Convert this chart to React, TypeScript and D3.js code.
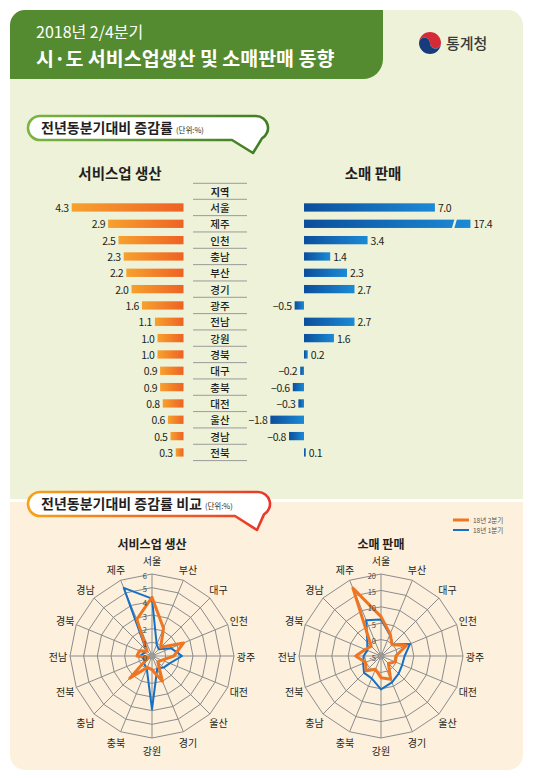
import React from 'react';
import * as d3 from 'd3';

const regions = ['서울', '제주', '인천', '충남', '부산', '경기', '광주', '전남', '강원', '경북', '대구', '충북', '대전', '울산', '경남', '전북'];
const serviceQ2 = [4.3, 2.9, 2.5, 2.3, 2.2, 2.0, 1.6, 1.1, 1.0, 1.0, 0.9, 0.9, 0.8, 0.6, 0.5, 0.3];
const retailQ2 = [7.0, 17.4, 3.4, 1.4, 2.3, 2.7, -0.5, 2.7, 1.6, 0.2, -0.2, -0.6, -0.3, -1.8, -0.8, 0.1];

const radarAxes = ['서울', '부산', '대구', '인천', '광주', '대전', '울산', '경기', '강원', '충북', '충남', '전북', '전남', '경북', '경남', '제주'];
const serviceQ1 = [4.2, 0.9, 0.7, 1.5, 2.2, 1.4, 1.2, 1.0, 3.9, 1.0, 0.8, 0.6, 0.9, 0.6, 0.6, 5.4];
const retailQ1 = [6.1, 2.0, 0.0, 4.6, 2.2, 2.0, 2.6, 3.7, 5.2, 2.4, 2.3, 0.9, 0.3, -0.5, 0.9, 6.8];

const serviceTicks = [0, 1, 2, 3, 4, 5, 6];
const retailTicks = [-5, 0, 5, 10, 15, 20];
const legendLabels = ['18년 2분기', '18년 1분기'];

const FONT = "'Noto Sans CJK KR', 'Noto Sans', sans-serif";
const ORANGE = '#ee7623';
const BLUE = '#1570c6';
const TEXT = '#231f20';
const GRID = '#8c8c8c';
const fmt = d3.format('.1f');

// display cap for the broken bar
const RETAIL_CAP = 8.9;
const RETAIL_BREAK = 8.0;

function Radar({ cx, cy, title, domain, ticks, q2, q1 }: any) {
  const R = 82;
  const r = d3.scaleLinear().domain(domain).range([0, R]);
  const ang = d3.scaleLinear().domain([0, radarAxes.length]).range([0, 2 * Math.PI]);
  const line = d3
    .lineRadial<number>()
    .angle((_, i) => ang(i))
    .radius((v) => r(v))
    .curve(d3.curveLinearClosed);
  const rings = ticks.filter((t: number) => t > domain[0]);
  const LR = 94;
  return (
    <g transform={`translate(${cx},${cy})`}>
      {rings.map((t: number) => (
        <path key={t} d={line(radarAxes.map(() => t)) || ''} fill="none" stroke={GRID} strokeWidth={1} />
      ))}
      {radarAxes.map((a, i) => (
        <line key={a} x1={0} y1={0} x2={R * Math.sin(ang(i))} y2={-R * Math.cos(ang(i))} stroke={GRID} strokeWidth={1} />
      ))}
      <circle r={3.5} fill="#9a9a9a" />
      <path d={line(q1) || ''} fill="none" stroke={BLUE} strokeWidth={2} strokeLinejoin="round" />
      <path d={line(q2) || ''} fill="none" stroke={ORANGE} strokeWidth={3} strokeLinejoin="round" />
      {ticks.map((t: number) => (
        <text key={t} x={-5} y={-r(t) + 1} textAnchor="end" dominantBaseline="central" fontSize={7.5} fill="#444" fontFamily={FONT}>
          {t}
        </text>
      ))}
      {radarAxes.map((a, i) => (
        <text
          key={a}
          x={LR * Math.sin(ang(i))}
          y={-LR * Math.cos(ang(i)) - (i === 0 ? 1.5 : 0)}
          textAnchor="middle"
          dominantBaseline="central"
          fontSize={10}
          fill={TEXT}
          fontFamily={FONT}
        >
          {a}
        </text>
      ))}
      <text x={0} y={-113} textAnchor="middle" dominantBaseline="central" fontSize={12} fontWeight="bold" fill={TEXT} fontFamily={FONT}>
        {title}
      </text>
    </g>
  );
}

function Bubble({ x0, x1, y0, y1, tip, back, gradId, text, sub }: any) {
  const rr = (y1 - y0) / 2;
  const cxr = x1 - rr;
  const cyr = y0 + rr;
  const ea = (60 * Math.PI) / 180;
  const ex = cxr + rr * Math.cos(ea);
  const ey = cyr + rr * Math.sin(ea);
  const d = `M${x0 + rr},${y0} H${cxr} A${rr},${rr} 0 0 1 ${ex},${ey} L${tip[0]},${tip[1]} L${back},${y1} H${x0 + rr} A${rr},${rr} 0 0 1 ${x0 + rr},${y0} Z`;
  return (
    <g>
      <path d={d} fill="#fff" stroke={`url(#${gradId})`} strokeWidth={2.6} strokeLinejoin="round" />
      <text x={x0 + 13} y={y1 - 7} fontSize={14} fontWeight="bold" fill={TEXT} fontFamily={FONT}>
        {text}
        <tspan fontSize={7.5} fontWeight="normal" dx={3}>
          {sub}
        </tspan>
      </text>
    </g>
  );
}

export default function App() {
  const W = 533;
  const H = 778;

  const band = d3.scaleBand<string>().domain(regions).range([199.3, 460.6]).padding(0);
  const bh = 8.3;
  const xL = d3.scaleLinear().domain([0, 5]).range([183.5, 183.5 - 130]);
  const xR = d3.scaleLinear().domain([0, 10]).range([304, 304 + 187]);

  const q2Service = radarAxes.map((a) => serviceQ2[regions.indexOf(a)]);
  const q2Retail = radarAxes.map((a) => retailQ2[regions.indexOf(a)]);

  return (
    <svg width={W} height={H} style={{ position: 'absolute', left: 0, top: 0 }} fontFamily={FONT}>
      <defs>
        <linearGradient id="gOrange" x1="0" x2="1" y1="0" y2="0">
          <stop offset="0" stopColor="#f7a12e" />
          <stop offset="1" stopColor="#ee6224" />
        </linearGradient>
        <linearGradient id="gBlue" x1="0" x2="1" y1="0" y2="0">
          <stop offset="0" stopColor="#0b4e9b" />
          <stop offset="1" stopColor="#1c8ad6" />
        </linearGradient>
        <linearGradient id="gGreenStroke" x1="0" x2="1" y1="0" y2="0">
          <stop offset="0" stopColor="#7cb342" />
          <stop offset="1" stopColor="#3f7d22" />
        </linearGradient>
        <linearGradient id="gRedStroke" x1="0" x2="1" y1="0" y2="0">
          <stop offset="0" stopColor="#f6a21a" />
          <stop offset="1" stopColor="#e8372b" />
        </linearGradient>
      </defs>
      <rect x={0} y={0} width={W} height={H} fill="#fff" />

      {/* top panel */}
      <path d="M10,25 A15,15 0 0 1 25,10 H508 A15,15 0 0 1 523,25 V499 H10 Z" fill="#eef2d9" />
      {/* bottom panel */}
      <path d="M10,502 H523 V755 A15,15 0 0 1 508,770 H25 A15,15 0 0 1 10,755 Z" fill="#fdf0dc" />

      {/* header */}
      <path d="M10,25 A15,15 0 0 1 25,10 H383 V59 A20,20 0 0 1 363,79 H10 Z" fill="#558b30" />
      <text x={36} y={38} fontSize={16} fill="#fff" fontFamily={FONT}>
        2018년 2/4분기
      </text>
      <text x={36} y={66} fontSize={19.5} fontWeight="bold" fill="#fff" fontFamily={FONT}>
        시·도 서비스업생산 및 소매판매 동향
      </text>

      {/* logo */}
      <g transform="translate(430,43)">
        <circle r={11} fill="#fff" />
        <path d="M-11,0 A11,11 0 0 1 11,0 A5.5,5.5 0 0 1 0,0 A5.5,5.5 0 0 0 -11,0 Z" fill="#d52b36" />
        <path d="M-11,0 A11,11 0 0 0 11,0 A5.5,5.5 0 0 1 0,0 A5.5,5.5 0 0 0 -11,0 Z" fill="#173c7c" />
        <text x={16} y={6} fontSize={15} fill="#3a3a3a" fontFamily={FONT} fontWeight={500}>
          통계청
        </text>
      </g>

      {/* bubble 1 */}
      <Bubble x0={28} x1={268} y0={116} y1={140} tip={[253, 153]} back={232} gradId="gGreenStroke" text="전년동분기대비 증감률" sub="(단위:%)" />

      {/* bar section titles */}
      <text x={120} y={172} textAnchor="middle" dominantBaseline="central" fontSize={14.5} fontWeight="bold" fill={TEXT}>
        서비스업 생산
      </text>
      <text x={373} y={172} textAnchor="middle" dominantBaseline="central" fontSize={14.5} fontWeight="bold" fill={TEXT}>
        소매 판매
      </text>

      {/* region column */}
      <line x1={193} x2={247} y1={183.3} y2={183.3} stroke="#9a9a9a" strokeWidth={1} />
      <text x={220} y={191.5} textAnchor="middle" dominantBaseline="central" fontSize={10} fontWeight="bold" fill={TEXT}>
        지역
      </text>
      {[...regions.map((g) => band(g) as number), 460.6].map((y, i) => (
        <line key={i} x1={193} x2={247} y1={y} y2={y} stroke="#9a9a9a" strokeWidth={1} />
      ))}
      {regions.map((g) => (
        <text
          key={g}
          x={220}
          y={(band(g) as number) + band.bandwidth() / 2}
          textAnchor="middle"
          dominantBaseline="central"
          fontSize={10.5}
          fontWeight={500}
          fill={TEXT}
        >
          {g}
        </text>
      ))}

      {/* service bars */}
      {regions.map((g, i) => {
        const v = serviceQ2[i];
        const yc = (band(g) as number) + band.bandwidth() / 2;
        return (
          <g key={g}>
            <rect x={xL(v)} y={yc - bh / 2} width={xL(0) - xL(v)} height={bh} fill="url(#gOrange)" />
            <text x={xL(v) - 3} y={yc} textAnchor="end" dominantBaseline="central" fontSize={10.5} letterSpacing={-0.4} fill={TEXT}>
              {fmt(v)}
            </text>
          </g>
        );
      })}

      {/* retail bars */}
      {regions.map((g, i) => {
        const v = retailQ2[i];
        const dv = Math.min(v, RETAIL_CAP);
        const yc = (band(g) as number) + band.bandwidth() / 2;
        const x0 = Math.min(xR(0), xR(dv));
        const w = Math.abs(xR(dv) - xR(0));
        const broken = v > RETAIL_CAP;
        return (
          <g key={g}>
            <rect x={x0} y={yc - bh / 2} width={w} height={bh} fill="url(#gBlue)" />
            {broken && (
              <path
                d={`M${xR(RETAIL_BREAK) + 1},${yc - bh / 2 - 1} L${xR(RETAIL_BREAK) + 3.5},${yc - bh / 2 - 1} L${xR(RETAIL_BREAK) + 0.5},${yc + bh / 2 + 1} L${xR(RETAIL_BREAK) - 2},${yc + bh / 2 + 1} Z`}
                fill="#eef2d9"
              />
            )}
            <text
              x={v >= 0 ? xR(dv) + 3 : xR(dv) - 3}
              y={yc}
              textAnchor={v >= 0 ? 'start' : 'end'}
              dominantBaseline="central"
              fontSize={10.5}
              letterSpacing={-0.4}
              fill={TEXT}
            >
              {fmt(v)}
            </text>
          </g>
        );
      })}

      {/* bubble 2 */}
      <Bubble x0={28} x1={270} y0={492} y1={516} tip={[257, 530]} back={235} gradId="gRedStroke" text="전년동분기대비 증감률 비교" sub="(단위:%)" />

      {/* legend */}
      {legendLabels.map((l, i) => (
        <g key={l} transform={`translate(453,${520 + i * 10})`}>
          <line x1={0} x2={16} y1={0} y2={0} stroke={i === 0 ? ORANGE : BLUE} strokeWidth={i === 0 ? 3 : 2} />
          <text x={20} y={0} dominantBaseline="central" fontSize={6.5} fill="#555">
            {l}
          </text>
        </g>
      ))}

      <Radar cx={152} cy={656} title="서비스업 생산" domain={[0, 6]} ticks={serviceTicks} q2={q2Service} q1={serviceQ1} />
      <Radar cx={381} cy={656} title="소매 판매" domain={[-5, 20]} ticks={retailTicks} q2={q2Retail} q1={retailQ1} />
    </svg>
  );
}
